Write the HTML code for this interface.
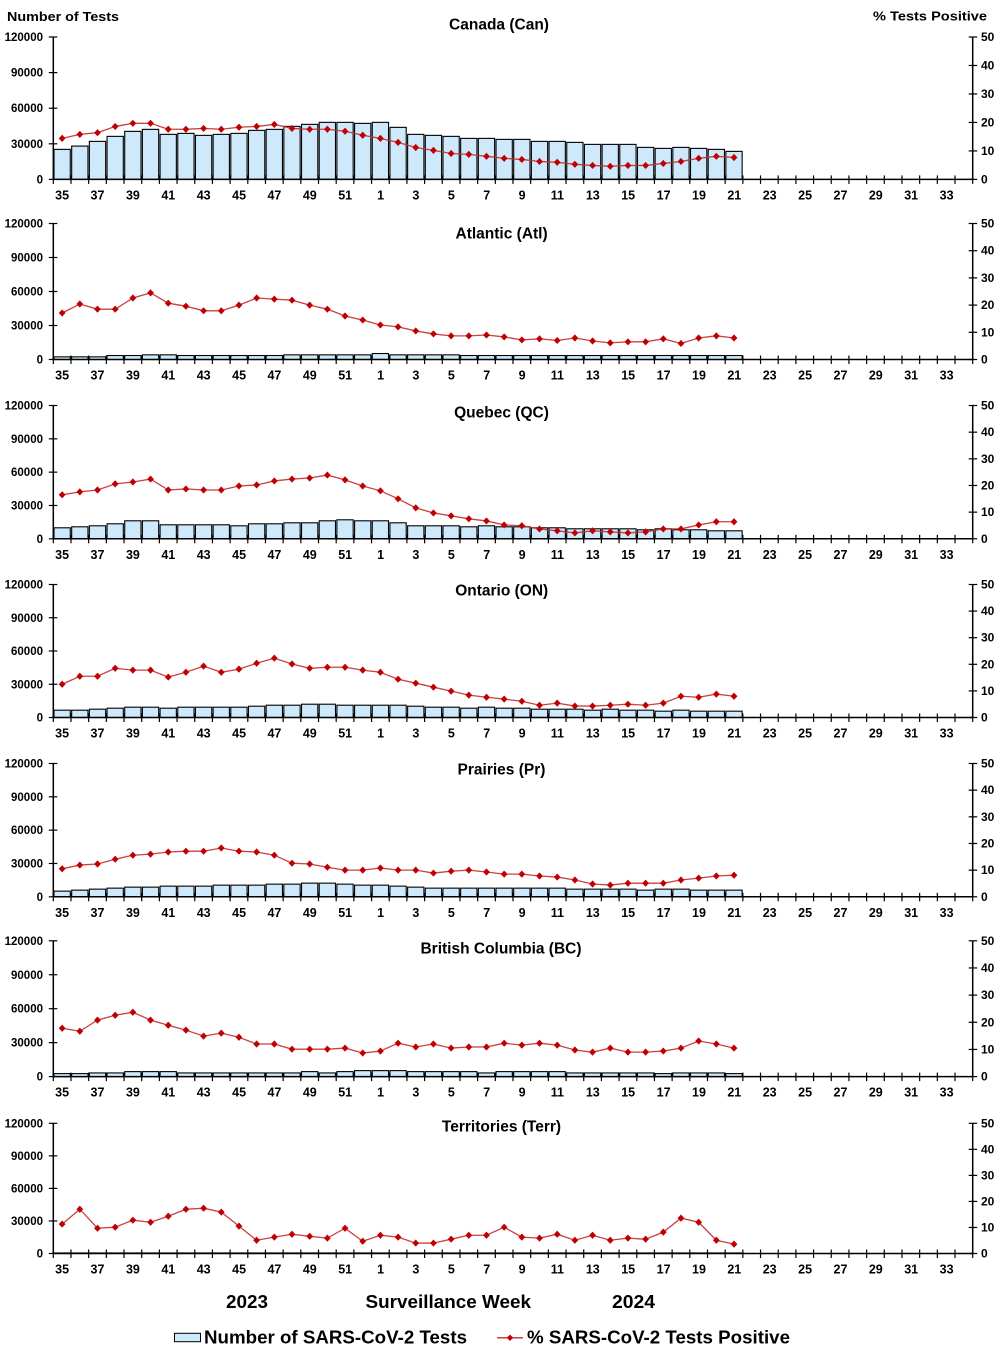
<!DOCTYPE html>
<html><head><meta charset="utf-8"><style>
html,body{margin:0;padding:0;background:#fff;}
svg{display:block;}
text{font-family:"Liberation Sans",Arial,sans-serif;font-weight:bold;fill:#000;}
.yl{font-size:11.5px;text-anchor:end;}
.yr{font-size:12px;text-anchor:start;}
.wk{font-size:12.5px;text-anchor:middle;}
.tt{font-size:15.5px;text-anchor:middle;}
</style></head><body>
<svg id="c" xmlns="http://www.w3.org/2000/svg" width="1002" height="1355" viewBox="0 0 1002 1355">
<rect x="0" y="0" width="1002" height="1355" fill="#fff"/>
<g id="shapes"></g>
<text x="7" y="21" font-size="13" textLength="112" lengthAdjust="spacingAndGlyphs">Number of Tests</text>
<text x="873" y="20.7" font-size="13" textLength="114" lengthAdjust="spacingAndGlyphs">%  Tests Positive</text>

<text class="tt" x="499" y="29.5">Canada (Can)</text>
<text class="tt" x="501.6" y="238.5">Atlantic (Atl)</text>
<text class="tt" x="501.5" y="417.5">Quebec (QC)</text>
<text class="tt" x="501.7" y="595.5">Ontario (ON)</text>
<text class="tt" x="501.5" y="774.5">Prairies (Pr)</text>
<text class="tt" x="501" y="953.5">British Columbia (BC)</text>
<text class="tt" x="501.5" y="1131.5">Territories (Terr)</text>

<!-- left axis labels -->
<g class="yl">
<text class="yl" x="43" y="41">120000</text><text class="yl" x="43" y="76.6">90000</text><text class="yl" x="43" y="112.2">60000</text><text class="yl" x="43" y="147.8">30000</text><text class="yl" x="43" y="183.4">0</text>
<text class="yl" x="43" y="227.5">120000</text><text class="yl" x="43" y="261.5">90000</text><text class="yl" x="43" y="295.5">60000</text><text class="yl" x="43" y="329.5">30000</text><text class="yl" x="43" y="363.5">0</text>
<text class="yl" x="43" y="409.5">120000</text><text class="yl" x="43" y="442.8">90000</text><text class="yl" x="43" y="476.2">60000</text><text class="yl" x="43" y="509.5">30000</text><text class="yl" x="43" y="542.8">0</text>
<text class="yl" x="43" y="588.5">120000</text><text class="yl" x="43" y="621.75">90000</text><text class="yl" x="43" y="655">60000</text><text class="yl" x="43" y="688.25">30000</text><text class="yl" x="43" y="721.5">0</text>
<text class="yl" x="43" y="767.5">120000</text><text class="yl" x="43" y="800.8">90000</text><text class="yl" x="43" y="834.2">60000</text><text class="yl" x="43" y="867.5">30000</text><text class="yl" x="43" y="900.8">0</text>
<text class="yl" x="43" y="944.8">120000</text><text class="yl" x="43" y="978.75">90000</text><text class="yl" x="43" y="1012.7">60000</text><text class="yl" x="43" y="1046.65">30000</text><text class="yl" x="43" y="1080.6">0</text>
<text class="yl" x="43" y="1127.3">120000</text><text class="yl" x="43" y="1159.85">90000</text><text class="yl" x="43" y="1192.4">60000</text><text class="yl" x="43" y="1224.95">30000</text><text class="yl" x="43" y="1257.5">0</text>
</g>

<!-- right axis labels -->
<text class="yr" x="981" y="41">50</text><text class="yr" x="981" y="69.5">40</text><text class="yr" x="981" y="98">30</text><text class="yr" x="981" y="126.4">20</text><text class="yr" x="981" y="154.9">10</text><text class="yr" x="981" y="183.4">0</text>
<text class="yr" x="981" y="227.5">50</text><text class="yr" x="981" y="254.7">40</text><text class="yr" x="981" y="281.9">30</text><text class="yr" x="981" y="309.1">20</text><text class="yr" x="981" y="336.3">10</text><text class="yr" x="981" y="363.5">0</text>
<text class="yr" x="981" y="409.5">50</text><text class="yr" x="981" y="436.2">40</text><text class="yr" x="981" y="462.8">30</text><text class="yr" x="981" y="489.5">20</text><text class="yr" x="981" y="516.1">10</text><text class="yr" x="981" y="542.8">0</text>
<text class="yr" x="981" y="588.5">50</text><text class="yr" x="981" y="615.1">40</text><text class="yr" x="981" y="641.7">30</text><text class="yr" x="981" y="668.3">20</text><text class="yr" x="981" y="694.9">10</text><text class="yr" x="981" y="721.5">0</text>
<text class="yr" x="981" y="767.5">50</text><text class="yr" x="981" y="794.2">40</text><text class="yr" x="981" y="820.8">30</text><text class="yr" x="981" y="847.5">20</text><text class="yr" x="981" y="874.1">10</text><text class="yr" x="981" y="900.8">0</text>
<text class="yr" x="981" y="944.8">50</text><text class="yr" x="981" y="972">40</text><text class="yr" x="981" y="999.1">30</text><text class="yr" x="981" y="1026.3">20</text><text class="yr" x="981" y="1053.4">10</text><text class="yr" x="981" y="1080.6">0</text>
<text class="yr" x="981" y="1127.3">50</text><text class="yr" x="981" y="1153.3">40</text><text class="yr" x="981" y="1179.4">30</text><text class="yr" x="981" y="1205.4">20</text><text class="yr" x="981" y="1231.5">10</text><text class="yr" x="981" y="1257.5">0</text>

<!-- week labels -->
<g transform="translate(0,199.4)"><text class="wk" x="62.1">35</text><text class="wk" x="97.5">37</text><text class="wk" x="132.9">39</text><text class="wk" x="168.3">41</text><text class="wk" x="203.7">43</text><text class="wk" x="239.1">45</text><text class="wk" x="274.4">47</text><text class="wk" x="309.8">49</text><text class="wk" x="345.2">51</text><text class="wk" x="380.6">1</text><text class="wk" x="415.9">3</text><text class="wk" x="451.3">5</text><text class="wk" x="486.7">7</text><text class="wk" x="522.1">9</text><text class="wk" x="557.4">11</text><text class="wk" x="592.8">13</text><text class="wk" x="628.2">15</text><text class="wk" x="663.6">17</text><text class="wk" x="699">19</text><text class="wk" x="734.3">21</text><text class="wk" x="769.7">23</text><text class="wk" x="805.1">25</text><text class="wk" x="840.5">27</text><text class="wk" x="875.8">29</text><text class="wk" x="911.2">31</text><text class="wk" x="946.6">33</text></g>
<g transform="translate(0,379.5)"><text class="wk" x="62.1">35</text><text class="wk" x="97.5">37</text><text class="wk" x="132.9">39</text><text class="wk" x="168.3">41</text><text class="wk" x="203.7">43</text><text class="wk" x="239.1">45</text><text class="wk" x="274.4">47</text><text class="wk" x="309.8">49</text><text class="wk" x="345.2">51</text><text class="wk" x="380.6">1</text><text class="wk" x="415.9">3</text><text class="wk" x="451.3">5</text><text class="wk" x="486.7">7</text><text class="wk" x="522.1">9</text><text class="wk" x="557.4">11</text><text class="wk" x="592.8">13</text><text class="wk" x="628.2">15</text><text class="wk" x="663.6">17</text><text class="wk" x="699">19</text><text class="wk" x="734.3">21</text><text class="wk" x="769.7">23</text><text class="wk" x="805.1">25</text><text class="wk" x="840.5">27</text><text class="wk" x="875.8">29</text><text class="wk" x="911.2">31</text><text class="wk" x="946.6">33</text></g>
<g transform="translate(0,558.8)"><text class="wk" x="62.1">35</text><text class="wk" x="97.5">37</text><text class="wk" x="132.9">39</text><text class="wk" x="168.3">41</text><text class="wk" x="203.7">43</text><text class="wk" x="239.1">45</text><text class="wk" x="274.4">47</text><text class="wk" x="309.8">49</text><text class="wk" x="345.2">51</text><text class="wk" x="380.6">1</text><text class="wk" x="415.9">3</text><text class="wk" x="451.3">5</text><text class="wk" x="486.7">7</text><text class="wk" x="522.1">9</text><text class="wk" x="557.4">11</text><text class="wk" x="592.8">13</text><text class="wk" x="628.2">15</text><text class="wk" x="663.6">17</text><text class="wk" x="699">19</text><text class="wk" x="734.3">21</text><text class="wk" x="769.7">23</text><text class="wk" x="805.1">25</text><text class="wk" x="840.5">27</text><text class="wk" x="875.8">29</text><text class="wk" x="911.2">31</text><text class="wk" x="946.6">33</text></g>
<g transform="translate(0,737.5)"><text class="wk" x="62.1">35</text><text class="wk" x="97.5">37</text><text class="wk" x="132.9">39</text><text class="wk" x="168.3">41</text><text class="wk" x="203.7">43</text><text class="wk" x="239.1">45</text><text class="wk" x="274.4">47</text><text class="wk" x="309.8">49</text><text class="wk" x="345.2">51</text><text class="wk" x="380.6">1</text><text class="wk" x="415.9">3</text><text class="wk" x="451.3">5</text><text class="wk" x="486.7">7</text><text class="wk" x="522.1">9</text><text class="wk" x="557.4">11</text><text class="wk" x="592.8">13</text><text class="wk" x="628.2">15</text><text class="wk" x="663.6">17</text><text class="wk" x="699">19</text><text class="wk" x="734.3">21</text><text class="wk" x="769.7">23</text><text class="wk" x="805.1">25</text><text class="wk" x="840.5">27</text><text class="wk" x="875.8">29</text><text class="wk" x="911.2">31</text><text class="wk" x="946.6">33</text></g>
<g transform="translate(0,916.8)"><text class="wk" x="62.1">35</text><text class="wk" x="97.5">37</text><text class="wk" x="132.9">39</text><text class="wk" x="168.3">41</text><text class="wk" x="203.7">43</text><text class="wk" x="239.1">45</text><text class="wk" x="274.4">47</text><text class="wk" x="309.8">49</text><text class="wk" x="345.2">51</text><text class="wk" x="380.6">1</text><text class="wk" x="415.9">3</text><text class="wk" x="451.3">5</text><text class="wk" x="486.7">7</text><text class="wk" x="522.1">9</text><text class="wk" x="557.4">11</text><text class="wk" x="592.8">13</text><text class="wk" x="628.2">15</text><text class="wk" x="663.6">17</text><text class="wk" x="699">19</text><text class="wk" x="734.3">21</text><text class="wk" x="769.7">23</text><text class="wk" x="805.1">25</text><text class="wk" x="840.5">27</text><text class="wk" x="875.8">29</text><text class="wk" x="911.2">31</text><text class="wk" x="946.6">33</text></g>
<g transform="translate(0,1096.6)"><text class="wk" x="62.1">35</text><text class="wk" x="97.5">37</text><text class="wk" x="132.9">39</text><text class="wk" x="168.3">41</text><text class="wk" x="203.7">43</text><text class="wk" x="239.1">45</text><text class="wk" x="274.4">47</text><text class="wk" x="309.8">49</text><text class="wk" x="345.2">51</text><text class="wk" x="380.6">1</text><text class="wk" x="415.9">3</text><text class="wk" x="451.3">5</text><text class="wk" x="486.7">7</text><text class="wk" x="522.1">9</text><text class="wk" x="557.4">11</text><text class="wk" x="592.8">13</text><text class="wk" x="628.2">15</text><text class="wk" x="663.6">17</text><text class="wk" x="699">19</text><text class="wk" x="734.3">21</text><text class="wk" x="769.7">23</text><text class="wk" x="805.1">25</text><text class="wk" x="840.5">27</text><text class="wk" x="875.8">29</text><text class="wk" x="911.2">31</text><text class="wk" x="946.6">33</text></g>
<g transform="translate(0,1273.5)"><text class="wk" x="62.1">35</text><text class="wk" x="97.5">37</text><text class="wk" x="132.9">39</text><text class="wk" x="168.3">41</text><text class="wk" x="203.7">43</text><text class="wk" x="239.1">45</text><text class="wk" x="274.4">47</text><text class="wk" x="309.8">49</text><text class="wk" x="345.2">51</text><text class="wk" x="380.6">1</text><text class="wk" x="415.9">3</text><text class="wk" x="451.3">5</text><text class="wk" x="486.7">7</text><text class="wk" x="522.1">9</text><text class="wk" x="557.4">11</text><text class="wk" x="592.8">13</text><text class="wk" x="628.2">15</text><text class="wk" x="663.6">17</text><text class="wk" x="699">19</text><text class="wk" x="734.3">21</text><text class="wk" x="769.7">23</text><text class="wk" x="805.1">25</text><text class="wk" x="840.5">27</text><text class="wk" x="875.8">29</text><text class="wk" x="911.2">31</text><text class="wk" x="946.6">33</text></g>

<!-- footer -->
<text x="226" y="1308" font-size="18" textLength="42" lengthAdjust="spacingAndGlyphs">2023</text>
<text x="365.5" y="1308" font-size="18" textLength="165.5" lengthAdjust="spacingAndGlyphs">Surveillance Week</text>
<text x="612" y="1308" font-size="18" textLength="43" lengthAdjust="spacingAndGlyphs">2024</text>

<!-- legend -->
<rect x="174.5" y="1333.3" width="26" height="8.4" fill="#cde9fb" stroke="#000" stroke-width="1"/>
<text x="204" y="1343.3" font-size="18" textLength="263" lengthAdjust="spacingAndGlyphs">Number of SARS-CoV-2 Tests</text>
<line x1="497" y1="1337.8" x2="523" y2="1337.8" stroke="#c62b2b" stroke-width="1.4"/>
<path d="M510 1334.6L513.2 1337.8L510 1341L506.8 1337.8Z" fill="#c00000"/>
<text x="527" y="1343.3" font-size="18" textLength="263" lengthAdjust="spacingAndGlyphs">% SARS-CoV-2 Tests Positive</text>
</svg>
<script>
(function(){
var NS="http://www.w3.org/2000/svg";
var g=document.getElementById('shapes');
var L=53.3,R=972.7,cw=(R-L)/52;
function el(tag,a){var e=document.createElementNS(NS,tag);for(var k in a)e.setAttribute(k,a[k]);g.appendChild(e);return e;}
function rep(v,n){var r=[];for(var i=0;i<n;i++)r.push(v);return r;}
var P=[
{T:37,B:179.4,
t:[25300,28080,32040,36260,40480,42160,37950,38790,37100,37950,38790,41320,42160,44700,46380,48070,48070,47220,48070,43850,37950,37100,36260,34570,34570,33730,33730,32040,32040,31200,29510,29510,29510,26980,26140,26980,26140,25300,23610],
p:[14.4,15.8,16.4,18.6,19.7,19.7,17.6,17.6,17.9,17.6,18.3,18.6,19.3,17.9,17.6,17.6,16.9,15.5,14.4,13.0,11.2,10.2,9.1,8.8,8.1,7.4,7.0,6.3,6.0,5.3,4.9,4.6,4.9,4.9,5.6,6.3,7.4,8.1,7.7]},
{T:223.5,B:359.5,
t:[2340,2340,2340,3500,3500,4100,4100,3500,3500,3500,3500,3500,3500,4100,4100,4100,4100,4100,5270,4100,4100,4100,4100].concat(rep(3500,16)),
p:[17.1,20.4,18.5,18.5,22.6,24.5,20.7,19.6,17.9,17.9,20.0,22.6,22.2,21.8,20.0,18.5,16.0,14.5,12.7,12.0,10.5,9.4,8.7,8.7,9.0,8.3,7.2,7.6,7.0,7.9,6.8,6.1,6.5,6.5,7.6,5.9,7.9,8.7,7.9]},
{T:405.5,B:538.8,
t:[9900,10800,11700,13500,16200,16200,12600,12600,12600,12600,11700,13500,13500,14400,14400,16200,17100,16200,16200,14400,11700,11700,11700,10800,11700,10800,10800,9900,9900,9000,9000,9000,9000,8100,9000,8100,8100,7200,7200],
p:[16.5,17.6,18.3,20.6,21.3,22.4,18.3,18.7,18.3,18.3,19.8,20.2,21.7,22.4,22.8,23.9,22.1,19.8,18.0,15.0,11.6,9.7,8.6,7.5,6.7,5.2,4.9,3.7,3.0,2.2,3.0,2.6,2.2,2.6,3.7,3.7,5.2,6.4,6.4]},
{T:584.5,B:717.5,
t:[6600,6600,7500,8400,9300,9300,8400,9300,9300,9300,9300,10200,11100,11100,12000,12000,11100,11100,11100,11100,10200,9300,9300,8400,9300,8400,8400,7500,7500,7500,6600,7500,6600,6600,5700,6600,5700,5700,5700],
p:[12.5,15.5,15.5,18.5,17.8,17.8,15.2,17.0,19.3,17.0,18.2,20.4,22.3,20.1,18.5,18.9,18.9,17.8,17.0,14.4,12.9,11.4,9.9,8.4,7.6,6.9,6.1,4.6,5.4,4.3,4.3,4.6,5.0,4.6,5.4,8.0,7.6,8.8,8.0]},
{T:763.5,B:896.8,
t:[5100,6000,6900,7800,8700,8700,9600,9600,9600,10500,10500,10500,11400,11400,12300,12300,11400,10500,10500,9600,8700,7800,7800,7800,7800,7800,7800,7800,7800,6900,6900,6900,6900,6000,6900,6900,6000,6000,6000],
p:[10.5,11.9,12.3,14.1,15.6,16.0,16.8,17.1,17.1,18.3,17.1,16.8,15.6,12.6,12.3,11.1,10.0,10.0,10.8,10.0,10.0,8.9,9.6,10.0,9.3,8.5,8.5,7.8,7.4,6.3,4.8,4.4,5.1,5.1,5.1,6.3,7.0,7.8,8.1]},
{T:940.8,B:1076.6,
t:[2640,2640,3230,3230,4400,4400,4400,3230,3230,3230,3230,3230,3230,3230,4400,3230,4400,5280,5280,5280,4400,4400,4400,4400,3230,4400,4400,4400,4400,3230,3230,3230,3230,3230,2640,3230,3230,3230,2640],
p:[17.8,16.7,20.8,22.6,23.7,20.8,18.9,17.1,14.9,16.0,14.5,12.0,12.0,10.1,10.1,10.1,10.5,8.7,9.4,12.3,10.9,12.0,10.5,10.9,10.9,12.3,11.6,12.3,11.6,9.8,9.0,10.5,9.0,9.0,9.4,10.5,13.1,12.0,10.5]},
{T:1123.3,B:1253.5,
t:rep(500,39),
p:[11.3,17.0,9.7,10.1,12.8,12.0,14.3,17.0,17.4,15.9,10.5,5.1,6.3,7.4,6.6,5.9,9.7,4.7,7.0,6.3,4.0,4.0,5.5,7.0,7.0,10.1,6.3,5.9,7.4,5.1,7.0,5.1,5.9,5.5,8.2,13.6,12.0,5.1,3.6]}
];
P.forEach(function(p){
  var H=p.B-p.T,i;
  p.t.forEach(function(v,i){var h=v/120000*H;el('rect',{x:(L+i*cw+0.7).toFixed(2),y:(p.B-h).toFixed(2),width:(cw-1.4).toFixed(2),height:h.toFixed(2),fill:'#cde9fb',stroke:'#000','stroke-width':1.1});});
  el('line',{x1:L,y1:p.T,x2:L,y2:p.B+0.6,stroke:'#000','stroke-width':1.5});
  el('line',{x1:R,y1:p.T,x2:R,y2:p.B+0.6,stroke:'#000','stroke-width':1.5});
  el('line',{x1:L,y1:p.B,x2:R,y2:p.B,stroke:'#000','stroke-width':1.5});
  for(i=0;i<=4;i++){var y=p.T+H*i/4;el('line',{x1:L-4.5,y1:y,x2:L+4,y2:y,stroke:'#000','stroke-width':1.2});}
  for(i=0;i<=5;i++){var y2=p.T+H*i/5;el('line',{x1:R-4,y1:y2,x2:R+4.5,y2:y2,stroke:'#000','stroke-width':1.2});}
  for(i=0;i<=52;i++){var x=L+i*cw;el('line',{x1:x,y1:p.B-4,x2:x,y2:p.B+4.5,stroke:'#000','stroke-width':1.2});}
  var pts=p.p.map(function(v,i){return [L+(i+0.5)*cw,p.B-v/50*H];});
  el('polyline',{points:pts.map(function(q){return q[0].toFixed(2)+','+q[1].toFixed(2);}).join(' '),fill:'none',stroke:'#c62b2b','stroke-width':1.3,'stroke-opacity':0.9});
  pts.forEach(function(q){var x=q[0],y=q[1];el('path',{d:'M'+x.toFixed(2)+' '+(y-3.6).toFixed(2)+'L'+(x+3.4).toFixed(2)+' '+y.toFixed(2)+'L'+x.toFixed(2)+' '+(y+3.6).toFixed(2)+'L'+(x-3.4).toFixed(2)+' '+y.toFixed(2)+'Z',fill:'#c00000'});});
});
})();
</script>
</body></html>
